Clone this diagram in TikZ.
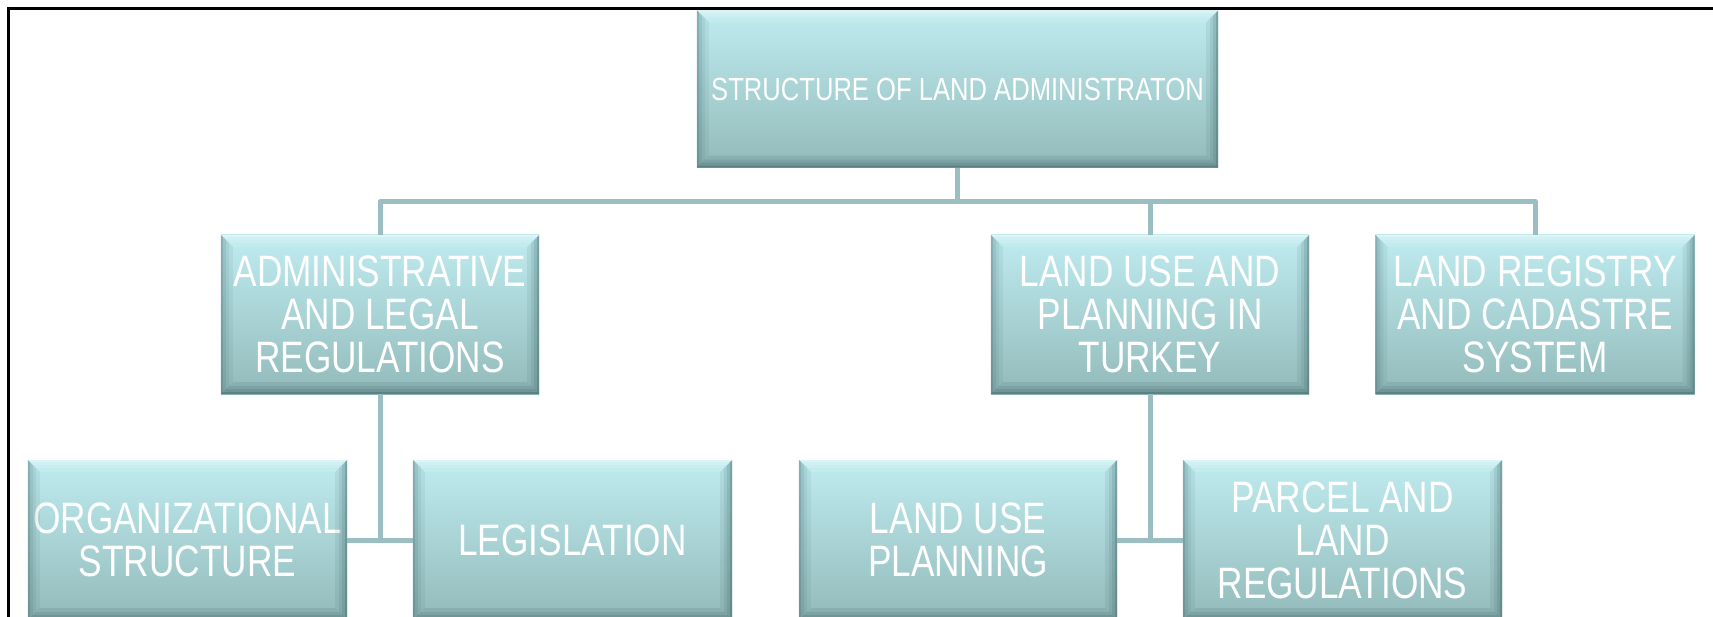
\documentclass[tikz,border=0pt]{standalone}
\usepackage{fontspec}
\newfontfamily\boxfont[FakeStretch=0.80]{Liberation Sans}
\usetikzlibrary{calc}
\definecolor{boxtop}{HTML}{BFECF0}
\definecolor{boxbot}{HTML}{93BABA}
\definecolor{edgedark}{HTML}{2C5254}
\definecolor{conncol}{HTML}{9ABEC1}
\newcommand\bevelbox[1]{%
  \foreach \w/\o in {12/0.07,8/0.08,5/0.1,2/0.18} {
    \fill[edgedark, fill opacity=\o] (#1.north west) -- ($(#1.north west)+(\w,\w)$) -- ($(#1.south west)+(\w,-\w)$) -- (#1.south west) -- cycle;
    \fill[edgedark, fill opacity=1.3*\o] (#1.north east) -- ($(#1.north east)+(-\w,\w)$) -- ($(#1.south east)+(-\w,-\w)$) -- (#1.south east) -- cycle;
    \fill[edgedark, fill opacity=1.6*\o] (#1.south west) -- ($(#1.south west)+(\w,-\w)$) -- ($(#1.south east)+(-\w,-\w)$) -- (#1.south east) -- cycle;
    \fill[white, fill opacity=1.4*\o] (#1.north west) -- ($(#1.north west)+(\w,\w)$) -- ($(#1.north east)+(-\w,\w)$) -- (#1.north east) -- cycle;
  }
}
\tikzset{
  orgbox/.style={rectangle, inner sep=0pt, top color=boxtop, bottom color=boxbot,
    text=white, align=center, minimum width=318pt, font=\boxfont\fontsize{44}{43}\selectfont},
  rowtwo/.style={orgbox, minimum height=159pt},
  rowthree/.style={orgbox, minimum height=160pt},
  conn/.style={draw=conncol, line width=5pt, line join=round},
  frameline/.style={draw=black, line width=3pt}
}
\begin{document}
\begin{tikzpicture}[x=1pt, y=-1pt]
\useasboundingbox (0,0) rectangle (1713,617);
\fill[white] (0,0) rectangle (1713,617);

% boxes
\node[orgbox, minimum width=521pt, minimum height=157pt, font=\boxfont\fontsize{32}{34}\selectfont] (top) at (957.5,89) {STRUCTURE OF LAND ADMINISTRATON};
\node[rowtwo] (admin) at (380,314.5) {ADMINISTRATIVE\\AND LEGAL\\REGULATIONS};
\node[rowtwo] (landuse) at (1150,314.5) {LAND USE AND\\PLANNING IN\\TURKEY};
\node[rowtwo, minimum width=319pt] (registry) at (1535,314.5) {LAND REGISTRY\\AND CADASTRE\\SYSTEM};
\node[rowthree, minimum width=319pt] (org) at (187.5,540) {ORGANIZATIONAL\\STRUCTURE};
\node[rowthree, minimum width=319pt] (leg) at (572.5,540) {LEGISLATION};
\node[rowthree] (lup) at (958,540) {LAND USE\\PLANNING};
\node[rowthree, minimum width=319pt] (parcel) at (1342.5,540) {PARCEL AND\\LAND\\REGULATIONS};

\foreach \n in {top,admin,landuse,registry,org,leg,lup,parcel} {\bevelbox{\n}}

% connectors
\coordinate (hb) at (0,201.5);
\draw[conn] (top.south) -- (top.south |- hb);
\draw[conn] (admin.north) -- (admin.north |- hb) -- (registry.north |- hb) -- (registry.north);
\draw[conn] (landuse.north) -- (landuse.north |- hb);
\draw[conn] (admin.south) -- (admin.south |- org.east);
\draw[conn] (org.east) -- (leg.west);
\draw[conn] (landuse.south) -- (landuse.south |- lup.east);
\draw[conn] (lup.east) -- (parcel.west);

% frame
\draw[frameline] (8.5,617) -- (8.5,8.5) -- (1713,8.5);
\end{tikzpicture}
\end{document}
